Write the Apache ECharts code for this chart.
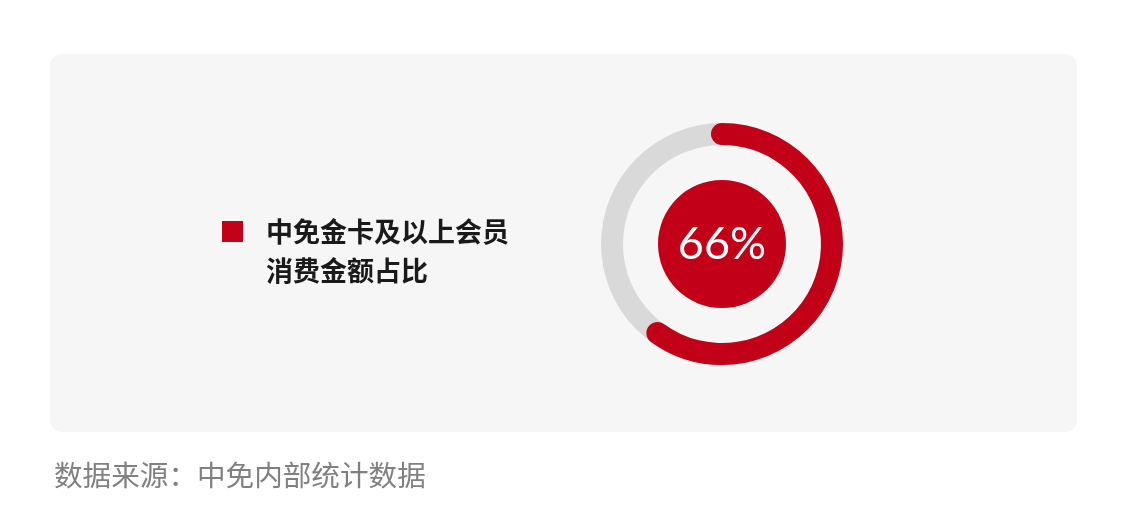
<!DOCTYPE html>
<html>
<head>
<meta charset="utf-8">
<script src="https://cdn.jsdelivr.net/npm/echarts@6/dist/echarts.min.js"></script>
<style>
html,body{margin:0;padding:0;background:#ffffff;}
#chart{width:1126px;height:532px;}
</style>
</head>
<body>
<div id="chart"></div>
<script>
// ---- data ----
const categories = ['中免金卡及以上会员\n消费金额占比'];
const shareLabel = [66];          // percentage printed in the centre
const arcShare = [60];            // share drawn by the red arc (as read from the ring)
const sourceText = '数据来源：中免内部统计数据';

const RED = '#c20017';
const GREY = '#d9d9d9';
const FONT = '"Noto Sans CJK SC", "Noto Sans", sans-serif';

const chart = echarts.init(document.getElementById('chart'), null, {renderer: 'canvas'});
chart.setOption({
  backgroundColor: '#ffffff',
  animation: false,
  graphic: [{
    type: 'rect',
    z: -10,
    shape: {x: 50, y: 54, width: 1027, height: 378, r: 12},
    style: {fill: '#f6f6f6'}
  }],
  title: {
    text: sourceText,
    left: 54,
    top: 461,
    padding: 0,
    textStyle: {fontFamily: FONT, fontSize: 28.6, fontWeight: 'normal', color: '#808080'}
  },
  legend: {
    data: categories,
    left: 222,
    top: 179,
    padding: 0,
    icon: 'rect',
    itemWidth: 21,
    itemHeight: 21,
    itemGap: 0,
    selectedMode: false,
    formatter: name => '{s| }\n' + name.split('\n').map(l => '{t|' + l + '}').join('\n'),
    textStyle: {
      padding: [0, 0, 0, 18],
      rich: {
        s: {fontFamily: FONT, fontSize: 27, lineHeight: 39},
        t: {fontFamily: FONT, fontSize: 27, fontWeight: 'bold', color: '#1a1a1a', lineHeight: 39}
      }
    }
  },
  polar: {center: [722, 244], radius: [99, 121]},
  angleAxis: {max: 100, startAngle: 90, clockwise: true, show: false},
  radiusAxis: {type: 'category', data: ['share'], show: false},
  series: [{
    type: 'bar',
    coordinateSystem: 'polar',
    data: arcShare,
    barWidth: 22,
    roundCap: true,
    showBackground: true,
    backgroundStyle: {color: GREY},
    itemStyle: {color: RED},
    silent: true
  }, {
    type: 'pie',
    center: [722, 244],
    radius: [0, 64],
    silent: true,
    data: shareLabel.map((v, i) => ({name: categories[i], value: v})),
    itemStyle: {color: RED},
    label: {
      show: true,
      position: 'center',
      formatter: p => p.value + '%',
      fontFamily: 'Lato, "Open Sans", sans-serif',
      fontSize: 45,
      fontWeight: 'normal',
      color: '#ffffff'
    },
    labelLine: {show: false}
  }]
});
</script>
</body>
</html>
